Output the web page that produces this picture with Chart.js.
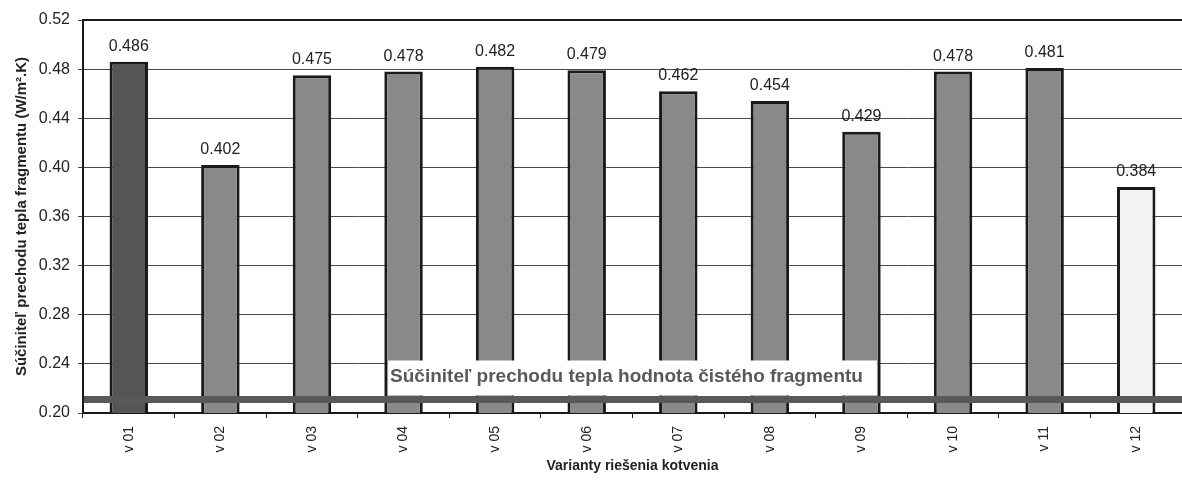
<!DOCTYPE html>
<html>
<head>
<meta charset="utf-8">
<script src="https://cdn.jsdelivr.net/npm/chart.js@4/dist/chart.umd.min.js"></script>
<style>
  html, body { margin: 0; padding: 0; background: #fff; }
  #wrap { width: 1182px; height: 482px; }
</style>
</head>
<body>
<div id="wrap"><canvas id="myChart" width="1182" height="482"></canvas></div>
<script>
// data
const variants = ['v 01', 'v 02', 'v 03', 'v 04', 'v 05', 'v 06', 'v 07', 'v 08', 'v 09', 'v 10', 'v 11', 'v 12'];
const uValues = [0.486, 0.402, 0.475, 0.478, 0.482, 0.479, 0.462, 0.454, 0.429, 0.478, 0.481, 0.384];
const barColors = ['#545557', '#88898b', '#88898b', '#88898b', '#88898b', '#88898b',
                   '#88898b', '#88898b', '#88898b', '#88898b', '#88898b', '#f4f4f4'];
const cleanValue = 0.211;   // hodnota čistého fragmentu
const cleanLabel = 'Súčiniteľ prechodu tepla hodnota čistého fragmentu';
const yMin = 0.20, yMax = 0.52, yStep = 0.04;

const FONT = '"Liberation Sans", Arial, sans-serif';

// value labels above the bars
const valueLabels = {
    id: 'valueLabels',
    afterDatasetsDraw(chart) {
        const ctx = chart.ctx;
        const meta = chart.getDatasetMeta(0);
        ctx.save();
        ctx.font = '16px ' + FONT;
        ctx.fillStyle = '#222';
        ctx.textAlign = 'center';
        ctx.textBaseline = 'alphabetic';
        meta.data.forEach((bar, i) => {
            ctx.fillText(uValues[i].toFixed(3), bar.x, bar.y - 11);
        });
        ctx.restore();
    }
};

// thick reference line + its caption, top frame line
const refLine = {
    id: 'refLine',
    afterDatasetsDraw(chart) {
        const ctx = chart.ctx;
        const area = chart.chartArea;
        const y = chart.scales.y.getPixelForValue(cleanValue);
        ctx.save();
        // top frame
        ctx.strokeStyle = '#1a1a1a';
        ctx.lineWidth = 2;
        ctx.beginPath();
        ctx.moveTo(area.left, area.top);
        ctx.lineTo(area.right, area.top);
        ctx.stroke();

        ctx.strokeStyle = '#58595b';
        ctx.lineWidth = 7;
        ctx.beginPath();
        ctx.moveTo(area.left + 1, y);
        ctx.lineTo(area.right, y);
        ctx.stroke();

        ctx.font = 'bold 19px ' + FONT;
        const w = ctx.measureText(cleanLabel).width;
        const cx = (area.left + area.right) / 2 - 6;
        const boxBottom = y - 4;
        ctx.fillStyle = '#fff';
        ctx.fillRect(cx - w / 2 - 2, boxBottom - 35, w + 16, 35);
        ctx.fillStyle = '#58595b';
        ctx.textAlign = 'left';
        ctx.textBaseline = 'alphabetic';
        ctx.fillText(cleanLabel, cx - w / 2, y - 17);
        ctx.restore();
    }
};

const ctx = document.getElementById('myChart').getContext('2d');
new Chart(ctx, {
    type: 'bar',
    data: {
        labels: variants,
        datasets: [{
            data: uValues,
            backgroundColor: barColors,
            borderColor: '#1a1a1a',
            borderWidth: 3,
            borderSkipped: false,
            barPercentage: 0.42,
            categoryPercentage: 1
        }]
    },
    options: {
        responsive: false,
        animation: false,
        layout: { padding: { top: 20, right: 0, bottom: 0, left: 0 } },
        plugins: {
            legend: { display: false },
            tooltip: { enabled: false }
        },
        scales: {
            x: {
                afterFit(scale) { scale.height = 69; },
                grid: { drawOnChartArea: false, drawTicks: true, tickLength: 5, color: '#1a1a1a' },
                border: { display: true, color: '#1a1a1a', width: 2 },
                ticks: {
                    minRotation: 90, maxRotation: 90,
                    padding: 8,
                    color: '#222',
                    font: { family: FONT, size: 14 }
                },
                title: {
                    display: true,
                    text: 'Varianty riešenia kotvenia',
                    color: '#222',
                    font: { family: FONT, size: 14, weight: 'bold' },
                    padding: { top: 4, bottom: 7 }
                }
            },
            y: {
                min: yMin, max: yMax,
                afterFit(scale) { scale.width = 83; },
                grid: { color: '#4a4a4a', lineWidth: 1, tickLength: 5 },
                border: { display: true, color: '#1a1a1a', width: 2 },
                ticks: {
                    stepSize: yStep,
                    padding: 8,
                    color: '#222',
                    font: { family: FONT, size: 16 },
                    callback: v => Number(v).toFixed(2)
                },
                title: {
                    display: true,
                    text: 'Súčiniteľ prechodu tepla fragmentu (W/m².K)',
                    color: '#222',
                    font: { family: FONT, size: 15, weight: 'bold' },
                    padding: { top: 13, bottom: 4 }
                }
            }
        }
    },
    plugins: [valueLabels, refLine]
});
</script>
</body>
</html>
